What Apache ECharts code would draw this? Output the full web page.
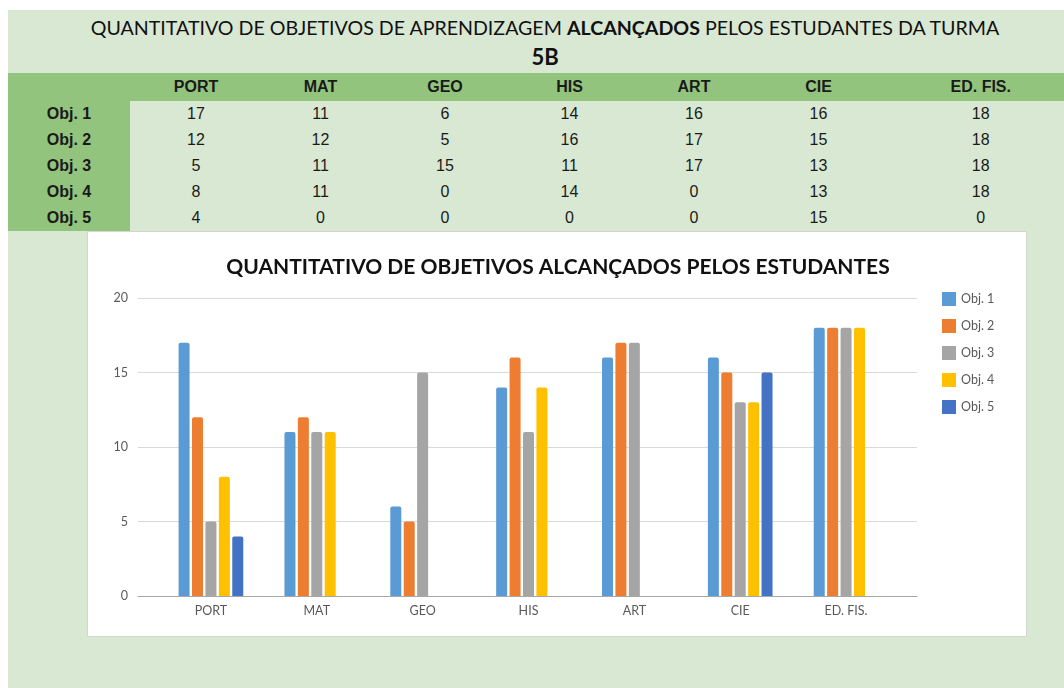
<!DOCTYPE html>
<html>
<head>
<meta charset="utf-8">
<script src="https://cdn.jsdelivr.net/npm/echarts@6/dist/echarts.min.js"></script>
<style>
  html, body { margin: 0; padding: 0; width: 1064px; height: 688px; background: #fff; overflow: hidden; }
  #page { position: absolute; left: 8px; top: 10px; width: 1056px; height: 678px; background: #d9e8d2; }
  .titulo { position: absolute; left: 0; width: 1090px; text-align: center; font-family: Lato, sans-serif; color: #111; }
  #t1 { top: 16px; font-size: 19.6px; }
  #t2 { top: 43px; font-size: 22px; font-weight: bold; }
  #tabela { position: absolute; left: 8px; top: 73px; border-collapse: collapse; table-layout: fixed; width: 1069px;
            font-family: "Liberation Sans", Arial, sans-serif; font-size: 16px; color: #1a1a1a; }
  #tabela td { padding: 0 0 0 7.5px; text-align: center; height: 26px; }
  #tabela tr.cab td { background: #93c47d; font-weight: bold; height: 28px; }
  #tabela td.rot { background: #93c47d; font-weight: bold; padding: 0; }
  #painel { position: absolute; left: 87px; top: 231px; width: 938px; height: 404px; background: #fff; border: 1px solid #cfd8cb; }
  #chart { width: 940px; height: 406px; }
</style>
</head>
<body>
<div id="page"></div>
<div class="titulo" id="t1">QUANTITATIVO DE OBJETIVOS DE APRENDIZAGEM <b>ALCANÇADOS</b> PELOS ESTUDANTES DA TURMA</div>
<div class="titulo" id="t2">5B</div>
<table id="tabela"></table>
<div id="painel"><div id="chart"></div></div>
<script>
// dados da turma 5B
let disciplinas = ["PORT", "MAT", "GEO", "HIS", "ART", "CIE", "ED. FIS."];
let objetivos = ["Obj. 1", "Obj. 2", "Obj. 3", "Obj. 4", "Obj. 5"];
let obj1 = [17, 11, 6, 14, 16, 16, 18];
let obj2 = [12, 12, 5, 16, 17, 15, 18];
let obj3 = [5, 11, 15, 11, 17, 13, 18];
let obj4 = [8, 11, 0, 14, 0, 13, 18];
let obj5 = [4, 0, 0, 0, 0, 15, 0];
let valores = [obj1, obj2, obj3, obj4, obj5];
let cores = ["#5b9bd5", "#ed7d31", "#a5a5a5", "#ffc000", "#4472c4"];
let larguras = [124.5, 124.5, 124.5, 124.5, 124.5, 124.5, 200];

// tabela
let tabela = document.getElementById("tabela");
let html = '<colgroup><col style="width:122px">';
larguras.forEach(function(w) {
    html += '<col style="width:' + w + 'px">';
});
html += '</colgroup><tr class="cab"><td class="rot"></td>';
disciplinas.forEach(function(d) {
    html += '<td>' + d + '</td>';
});
html += '</tr>';
objetivos.forEach(function(o, j) {
    html += '<tr><td class="rot">' + o + '</td>';
    valores[j].forEach(function(v) {
        html += '<td>' + v + '</td>';
    });
    html += '</tr>';
});
tabela.innerHTML = html;

let chart = echarts.init(document.getElementById("chart"));
let fonte = "Lato, sans-serif";
let option = {
    animation: false,
    title: {
        text: "QUANTITATIVO DE OBJETIVOS ALCANÇADOS PELOS ESTUDANTES",
        left: "center",
        top: 20,
        textStyle: { fontFamily: fonte, fontSize: 21, fontWeight: "bold", color: "#111" }
    },
    legend: {
        orient: "vertical",
        left: 849,
        top: 55,
        itemWidth: 14,
        itemHeight: 14,
        itemGap: 13,
        icon: "rect",
        data: objetivos,
        textStyle: { fontFamily: fonte, fontSize: 12.5, color: "#595959" }
    },
    grid: [
        { left: 50, right: 111, top: 66, bottom: 42 },
        { left: 70, right: 129, top: 66, bottom: 42 }
    ],
    xAxis: [
        {
            gridIndex: 0, type: "value", min: 0, max: 1,
            axisLine: { show: true, lineStyle: { color: "#a6a6a6", width: 1 } },
            axisTick: { show: false }, axisLabel: { show: false }, splitLine: { show: false }
        },
        {
            gridIndex: 1, type: "category", data: disciplinas,
            axisLine: { show: false }, axisTick: { show: false },
            axisLabel: { margin: 8, fontFamily: fonte, fontSize: 12.5, color: "#595959" }
        }
    ],
    yAxis: [
        {
            gridIndex: 0, type: "value", min: 0, max: 20, interval: 5,
            axisLine: { show: false }, axisTick: { show: false },
            axisLabel: { margin: 10, fontFamily: fonte, fontSize: 12.5, color: "#595959" },
            splitLine: { lineStyle: { color: "#d9d9d9" } }
        },
        { gridIndex: 1, type: "value", min: 0, max: 20, interval: 5, show: false }
    ],
    series: objetivos.map(function(o, j) {
        return {
            name: o,
            type: "bar",
            xAxisIndex: 1,
            yAxisIndex: 1,
            barWidth: 11,
            barGap: "22%",
            itemStyle: { color: cores[j], borderRadius: [2, 2, 0, 0] },
            data: valores[j]
        };
    })
};
chart.setOption(option, true);
</script>
</body>
</html>
